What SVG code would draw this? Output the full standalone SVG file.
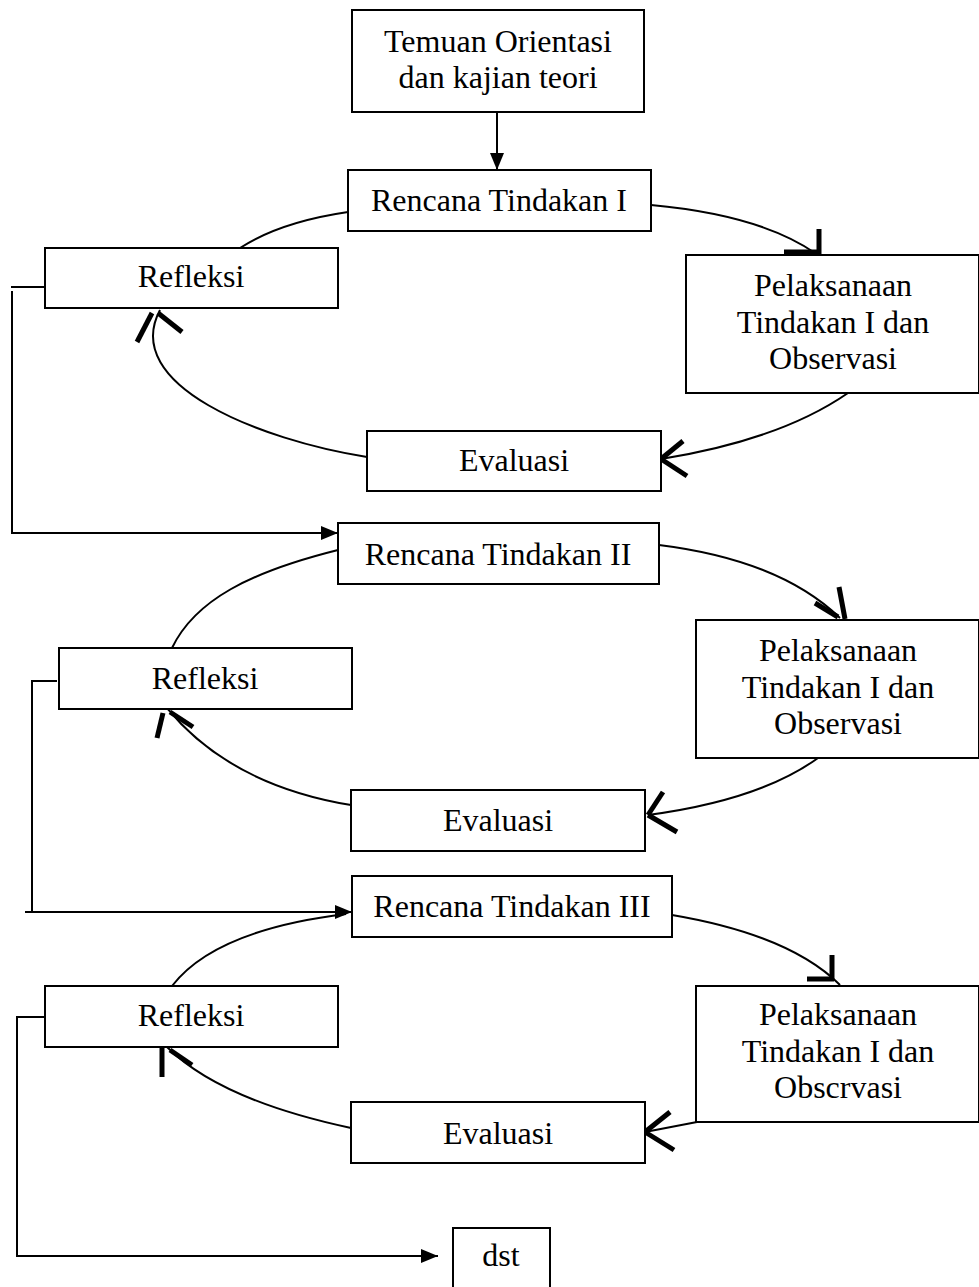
<svg xmlns="http://www.w3.org/2000/svg" width="979" height="1287" viewBox="0 0 979 1287">
<style>
.box{fill:#fff;stroke:#000;stroke-width:2}
.t{font-family:"Liberation Serif","Times New Roman",serif;font-size:32px;text-anchor:middle;fill:#000}
.c{fill:none;stroke:#000;stroke-width:2}
.ah{fill:none;stroke:#000;stroke-width:5;stroke-linecap:butt}
</style>
<defs>
<marker id="arr" markerWidth="17" markerHeight="14" refX="17" refY="7" orient="auto" markerUnits="userSpaceOnUse">
<path d="M0,0 L17,7 L0,14 Z" fill="#000"/>
</marker>
</defs>
<rect width="979" height="1287" fill="#fff"/>
<g id="connectors">
<line class="c" x1="497" y1="112" x2="497" y2="170" marker-end="url(#arr)"/>
<path class="c" d="M348,212 Q280,222 240,248"/>
<path class="c" d="M651,205 Q760,215 815,253"/>
<line class="ah" x1="819" y1="229" x2="819" y2="254"/>
<line class="ah" x1="784" y1="252" x2="819" y2="252"/>
<path class="c" d="M848,393 Q780,440 661,459"/>
<line class="ah" x1="661" y1="459" x2="683" y2="441"/>
<line class="ah" x1="661" y1="459" x2="687" y2="476"/>
<path class="c" d="M367,457 C260,440 120,385 160,310"/>
<line class="ah" x1="137" y1="342" x2="152" y2="313"/>
<line class="ah" x1="158" y1="313" x2="182" y2="332"/>
<polyline class="c" points="45,287 11,287"/>
<polyline class="c" points="12,291 12,533 338,533" marker-end="url(#arr)"/>
<path class="c" d="M338,550 C250,572 195,600 172,648"/>
<path class="c" d="M659,545 Q780,560 840,618"/>
<line class="ah" x1="839" y1="587" x2="845" y2="619"/>
<line class="ah" x1="815" y1="603" x2="838" y2="617"/>
<path class="c" d="M818,758 Q760,800 648,815"/>
<line class="ah" x1="648" y1="815" x2="663" y2="792"/>
<line class="ah" x1="648" y1="815" x2="677" y2="832"/>
<path class="c" d="M351,805 Q230,785 167,708"/>
<line class="ah" x1="157" y1="738" x2="163" y2="713"/>
<line class="ah" x1="170" y1="712" x2="193" y2="727"/>
<polyline class="c" points="57,681 32,681 32,912"/>
<polyline class="c" points="25,912 352,912" marker-end="url(#arr)"/>
<path class="c" d="M172,986 Q215,930 346,914"/>
<path class="c" d="M672,915 Q790,935 840,985"/>
<line class="ah" x1="832" y1="955" x2="832" y2="981"/>
<line class="ah" x1="807" y1="979" x2="834" y2="979"/>
<line class="c" x1="697" y1="1122" x2="645" y2="1132"/>
<line class="ah" x1="645" y1="1132" x2="670" y2="1112"/>
<line class="ah" x1="645" y1="1132" x2="674" y2="1150"/>
<path class="c" d="M351,1128 Q220,1100 167,1047"/>
<line class="ah" x1="162" y1="1047" x2="162" y2="1077"/>
<line class="ah" x1="170" y1="1050" x2="192" y2="1065"/>
<polyline class="c" points="45,1017 17,1017 17,1256 438,1256" marker-end="url(#arr)"/>
</g>
<g id="n-temuan"><rect class="box" x="352" y="10" width="292" height="102"/><text class="t" x="498" y="52">Temuan Orientasi</text><text class="t" x="498" y="88">dan kajian teori</text></g>
<g id="n-rencana1"><rect class="box" x="348" y="170" width="303" height="61"/><text class="t" x="499" y="211">Rencana Tindakan I</text></g>
<g id="n-refleksi1"><rect class="box" x="45" y="248" width="293" height="60"/><text class="t" x="191" y="287">Refleksi</text></g>
<g id="n-pelaksanaan1"><rect class="box" x="686" y="255" width="293" height="138"/><text class="t" x="833" y="296">Pelaksanaan</text><text class="t" x="833" y="333">Tindakan I dan</text><text class="t" x="833" y="369">Observasi</text></g>
<g id="n-evaluasi1"><rect class="box" x="367" y="431" width="294" height="60"/><text class="t" x="514" y="471">Evaluasi</text></g>
<g id="n-rencana2"><rect class="box" x="338" y="523" width="321" height="61"/><text class="t" x="498" y="565">Rencana Tindakan II</text></g>
<g id="n-refleksi2"><rect class="box" x="59" y="648" width="293" height="61"/><text class="t" x="205" y="689">Refleksi</text></g>
<g id="n-pelaksanaan2"><rect class="box" x="696" y="620" width="283" height="138"/><text class="t" x="838" y="661">Pelaksanaan</text><text class="t" x="838" y="698">Tindakan I dan</text><text class="t" x="838" y="734">Observasi</text></g>
<g id="n-evaluasi2"><rect class="box" x="351" y="790" width="294" height="61"/><text class="t" x="498" y="831">Evaluasi</text></g>
<g id="n-rencana3"><rect class="box" x="352" y="876" width="320" height="61"/><text class="t" x="512" y="917">Rencana Tindakan III</text></g>
<g id="n-refleksi3"><rect class="box" x="45" y="986" width="293" height="61"/><text class="t" x="191" y="1026">Refleksi</text></g>
<g id="n-pelaksanaan3"><rect class="box" x="696" y="986" width="283" height="136"/><text class="t" x="838" y="1025">Pelaksanaan</text><text class="t" x="838" y="1062">Tindakan I dan</text><text class="t" x="838" y="1098">Obscrvasi</text></g>
<g id="n-evaluasi3"><rect class="box" x="351" y="1102" width="294" height="61"/><text class="t" x="498" y="1144">Evaluasi</text></g>
<g id="n-dst"><rect class="box" x="453" y="1228" width="97" height="62"/><text class="t" x="501" y="1266">dst</text></g>
</svg>
